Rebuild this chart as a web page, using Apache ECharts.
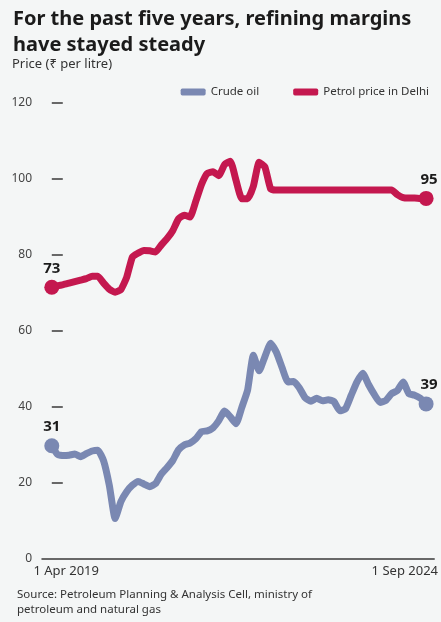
<!DOCTYPE html>
<html>
<head>
<meta charset="utf-8">
<script src="https://cdn.jsdelivr.net/npm/echarts@6/dist/echarts.min.js"></script>
<style>
  html, body { margin: 0; padding: 0; background: #f4f6f6; }
  #chart { width: 441px; height: 622px; }
</style>
</head>
<body>
<div id="chart"></div>
<script>
// monthly points, 1 Apr 2019 .. 1 Sep 2024 (index 0..65)
const crudeOil = [
  29.7, 27.4, 27.1, 27.2, 27.5, 26.8, 27.6, 28.3, 28.5, 25.7,
  19.2, 10.5, 15.0, 17.6, 19.3, 20.3, 19.6, 18.9, 19.7, 22.2,
  23.9, 25.8, 28.6, 29.9, 30.4, 31.5, 33.4, 33.6, 34.4, 36.3,
  38.8, 37.3, 35.5, 39.8, 44.3, 53.5, 49.4, 53.1, 56.7, 54.3,
  50.2, 46.5, 46.6, 44.9, 42.3, 41.4, 42.2, 41.5, 41.8, 41.3,
  38.9, 39.4, 43.0, 46.5, 48.8, 45.8, 43.2, 41.1, 41.6, 43.4,
  44.2, 46.5, 43.4, 43.0, 42.2, 40.7
]
const petrolDelhi = [
  71.4, 71.8, 72.1, 72.5, 72.9, 73.3, 73.7, 74.3, 74.3, 72.5,
  70.9, 70.1, 70.8, 74.0, 79.4, 80.4, 81.1, 81.0, 80.7, 82.5,
  84.2, 86.3, 89.4, 90.4, 89.9, 94.0, 98.5, 101.4, 101.8, 100.8,
  103.7, 104.6, 99.5, 94.7, 94.7, 98.0, 104.3, 103.1, 97.3, 97.0,
  97.0, 97.0, 97.0, 97.0, 97.0, 97.0, 97.0, 97.0, 97.0, 97.0,
  97.0, 97.0, 97.0, 97.0, 97.0, 97.0, 97.0, 97.0, 97.0, 97.0,
  95.8, 95.0, 94.9, 94.9, 94.8, 94.8
]
const crudeEndLabels = ['31', '39']
const petrolEndLabels = ['73', '95']
const xLabels = ['1 Apr 2019', '1 Sep 2024']
const yTicks = [0, 20, 40, 60, 80, 100, 120]

const CRUDE = '#7a88b2'
const PETROL = '#c4184f'
const FONT = 'Noto Sans'

const last = crudeOil.length - 1
const toPts = arr => arr.map((v, i) => [i, v])
const ends = (arr, labels) => [
  { value: [0, arr[0]], label: { formatter: labels[0] } },
  { value: [last, arr[last]], label: { formatter: labels[1], offset: [3, 0] } }
]

const chart = echarts.init(document.getElementById('chart'))

chart.setOption({
  backgroundColor: '#f4f6f6',
  textStyle: { fontFamily: FONT },
  title: [
    {
      text: 'For the past five years, refining margins\nhave stayed steady',
      left: 8, top: 1,
      textStyle: { fontFamily: FONT, fontSize: 20, fontWeight: 'bold', color: '#1b1b1b', lineHeight: 26 }
    },
    {
      text: 'Price (₹ per litre)',
      left: 7, top: 53,
      textStyle: { fontFamily: FONT, fontSize: 13, fontWeight: 'normal', color: '#333' }
    },
    {
      text: 'Source: Petroleum Planning & Analysis Cell, ministry of\npetroleum and natural gas',
      left: 12, top: 582,
      textStyle: { fontFamily: FONT, fontSize: 11.5, fontWeight: 'normal', color: '#333', lineHeight: 15 }
    }
  ],
  legend: {
    right: 7, top: 81,
    itemWidth: 25, itemHeight: 7, itemGap: 34,
    icon: 'roundRect',
    textStyle: { fontFamily: FONT, fontSize: 11.5, color: '#333' },
    data: ['Crude oil', 'Petrol price in Delhi']
  },
  grid: { left: 42, right: 4, top: 102.7, bottom: 63.5 },
  xAxis: {
    type: 'value',
    min: -1.7, max: 66.4,
    splitLine: { show: false },
    axisLine: { show: true, lineStyle: { color: '#3a3a3a', width: 1.5 } },
    axisTick: { show: false },
    axisLabel: {
      customValues: [2.5, 61.3],
      formatter: v => (v < 30 ? xLabels[0] : xLabels[1]),
      margin: 6,
      fontSize: 13,
      color: '#333'
    }
  },
  yAxis: {
    type: 'value',
    min: 0, max: 120, interval: 20,
    splitLine: { show: false },
    axisLine: { show: false },
    axisTick: { show: true, inside: true, length: 11, customValues: yTicks.slice(1), lineStyle: { color: '#3a3a3a', width: 1.5 } },
    axisLabel: { margin: 10, fontSize: 12, color: '#444', customValues: yTicks }
  },
  series: [
    {
      name: 'Crude oil',
      type: 'line',
      data: toPts(crudeOil),
      smooth: 0.15,
      showSymbol: false,
      itemStyle: { color: CRUDE },
      lineStyle: { color: CRUDE, width: 7, cap: 'round', join: 'round' },
      silent: true,
      z: 2
    },
    {
      name: 'Petrol price in Delhi',
      type: 'line',
      data: toPts(petrolDelhi),
      smooth: 0.15,
      showSymbol: false,
      itemStyle: { color: PETROL },
      lineStyle: { color: PETROL, width: 7, cap: 'round', join: 'round' },
      silent: true,
      z: 2
    },
    {
      type: 'scatter',
      data: ends(crudeOil, crudeEndLabels),
      symbolSize: 15,
      itemStyle: { color: CRUDE, opacity: 1 },
      label: { show: true, position: 'top', distance: 4, fontSize: 15, fontWeight: 'bold', color: '#1b1b1b' },
      z: 3
    },
    {
      type: 'scatter',
      data: ends(petrolDelhi, petrolEndLabels),
      symbolSize: 15,
      itemStyle: { color: PETROL, opacity: 1 },
      label: { show: true, position: 'top', distance: 4, fontSize: 15, fontWeight: 'bold', color: '#1b1b1b' },
      z: 3
    }
  ]
})
</script>
</body>
</html>
